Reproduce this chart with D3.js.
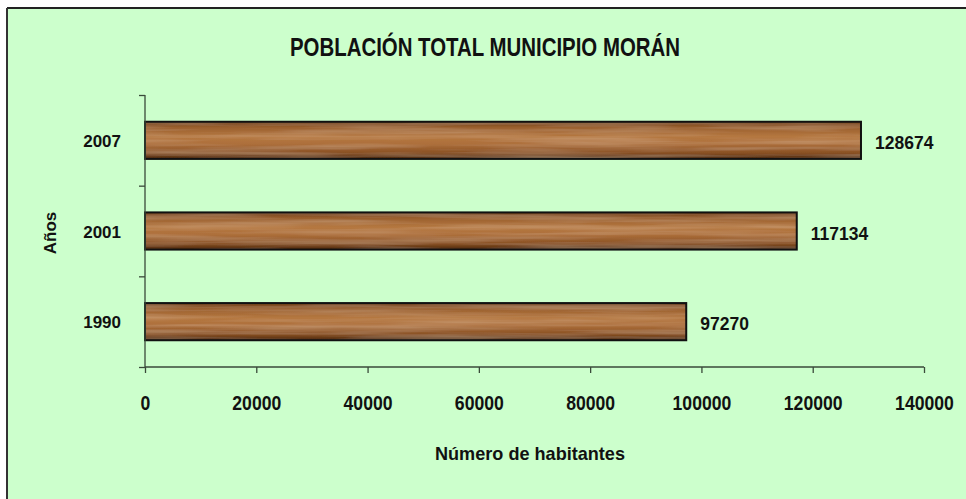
<!DOCTYPE html>
<html><head><meta charset="utf-8">
<script src="https://cdn.jsdelivr.net/npm/d3@7"></script>
<style>
html,body{margin:0;padding:0;background:#fff;overflow:hidden}
svg{display:block}
</style></head>
<body>
<script>
const categories = ["1990", "2001", "2007"];
const values = [97270, 117134, 128674];
const xTicks = [0, 20000, 40000, 60000, 80000, 100000, 120000, 140000];
const title = "POBLACIÓN TOTAL MUNICIPIO MORÁN";
const xTitle = "Número de habitantes";
const yTitle = "Años";

(function(){
const W = 966, H = 499;
const svg = d3.select("body").append("svg").attr("width", W).attr("height", H);
const defs = svg.append("defs");

// wood texture
const grad = defs.append("linearGradient").attr("id","woodGrad").attr("x1",0).attr("y1",0).attr("x2",0).attr("y2",1);
[[0,"#70401a"],[0.15,"#9a5f2e"],[0.4,"#b57840"],[0.6,"#ad6f3b"],[0.85,"#874f22"],[1,"#4a270c"]]
  .forEach(([o,c])=>grad.append("stop").attr("offset",o).attr("stop-color",c));
const filt = defs.append("filter").attr("id","grain").attr("x",0).attr("y",0).attr("width","100%").attr("height","100%");
filt.append("feTurbulence").attr("type","fractalNoise").attr("baseFrequency","0.006 0.2").attr("numOctaves",3).attr("seed",7).attr("result","noise");
filt.append("feColorMatrix").attr("in","noise").attr("type","matrix")
  .attr("values","0 0 0 0 0.8  0 0 0 0 0.58  0 0 0 0 0.36  0 0 0 0.5 -0.18").attr("result","streaks");
filt.append("feComposite").attr("in","streaks").attr("in2","SourceGraphic").attr("operator","atop");

// background and frame
svg.append("rect").attr("x",0).attr("y",0).attr("width",W).attr("height",H).attr("fill","#ffffff");
svg.append("rect").attr("x",7).attr("y",8).attr("width",W-7).attr("height",H-8).attr("fill","#ccffcc");
svg.append("line").attr("x1",7).attr("y1",8).attr("x2",W).attr("y2",8).attr("stroke","#222").attr("stroke-width",2);
svg.append("line").attr("x1",7).attr("y1",8).attr("x2",7).attr("y2",H).attr("stroke","#333").attr("stroke-width",2);

const pL = 145, pR = 924, pT = 95, pB = 367;
const x = d3.scaleLinear().domain([0,140000]).range([pL,pR]);
const y = d3.scaleBand().domain(categories.slice().reverse()).range([pT,pB]).paddingInner(0.59).paddingOuter(0.295);

const font = "'Liberation Sans',Arial,sans-serif";

// title (condensed)
svg.append("text").attr("x",485).attr("y",56).attr("text-anchor","middle")
  .attr("font-family",font).attr("font-weight","bold").attr("font-size",26).attr("fill","#111")
  .attr("textLength",390).attr("lengthAdjust","spacingAndGlyphs").text(title);

// bars
const bars = svg.append("g");
categories.forEach((c,i)=>{
  const g = bars.append("g");
  g.append("rect").attr("x",x(0)).attr("y",y(c)).attr("width",x(values[i])-x(0)).attr("height",y.bandwidth())
    .attr("fill","url(#woodGrad)").attr("filter","url(#grain)");
  g.append("rect").attr("x",x(0)).attr("y",y(c)).attr("width",x(values[i])-x(0)).attr("height",y.bandwidth())
    .attr("fill","none").attr("stroke","#111").attr("stroke-width",2);
  svg.append("text").attr("x",x(values[i])+14).attr("y",y(c)+y.bandwidth()/2+8.5)
    .attr("font-family",font).attr("font-weight","bold").attr("font-size",17.5).attr("fill","#111")
    .text(values[i]);
});

// x axis
const xAxis = svg.append("g").attr("transform",`translate(0,${pB})`)
  .call(d3.axisBottom(x).tickValues(xTicks).tickFormat(d3.format("d")).tickSize(6).tickPadding(0));
xAxis.select(".domain").attr("stroke","#3a4a3a").attr("stroke-width",1.3).attr("d",`M${pL},0H${pR}`);
xAxis.selectAll(".tick line").attr("stroke","#3a4a3a").attr("stroke-width",1.3);
xAxis.selectAll(".tick text").attr("font-family",font).attr("font-weight","bold").attr("font-size",20).attr("fill","#111")
  .attr("y",43).attr("dy",null)
  .attr("textLength",d=>String(d).length*9.8).attr("lengthAdjust","spacingAndGlyphs");

// y axis with ticks at band boundaries
const yAxis = svg.append("g").attr("transform",`translate(${pL},0)`);
const yb = d3.scaleLinear().domain([0,3]).range([pB,pT]);
yAxis.call(d3.axisLeft(yb).tickValues([0,1,2,3]).tickFormat("").tickSize(6));
yAxis.select(".domain").attr("stroke","#3a4a3a").attr("stroke-width",1.3).attr("d",`M0,${pT}V${pB}`);
yAxis.selectAll(".tick line").attr("stroke","#3a4a3a").attr("stroke-width",1.3);
categories.forEach(c=>{
  svg.append("text").attr("x",121).attr("y",y(c)+y.bandwidth()/2+6.5).attr("text-anchor","end")
    .attr("font-family",font).attr("font-weight","bold").attr("font-size",17).attr("fill","#111").text(c);
});

// axis titles
svg.append("text").attr("x",530).attr("y",460).attr("text-anchor","middle")
  .attr("font-family",font).attr("font-weight","bold").attr("font-size",19).attr("fill","#111")
  .attr("textLength",190).attr("lengthAdjust","spacingAndGlyphs").text(xTitle);
svg.append("text").attr("transform","translate(56,233) rotate(-90)").attr("text-anchor","middle")
  .attr("font-family",font).attr("font-weight","bold").attr("font-size",17).attr("fill","#111").text(yTitle);
})();
</script>
</body></html>
